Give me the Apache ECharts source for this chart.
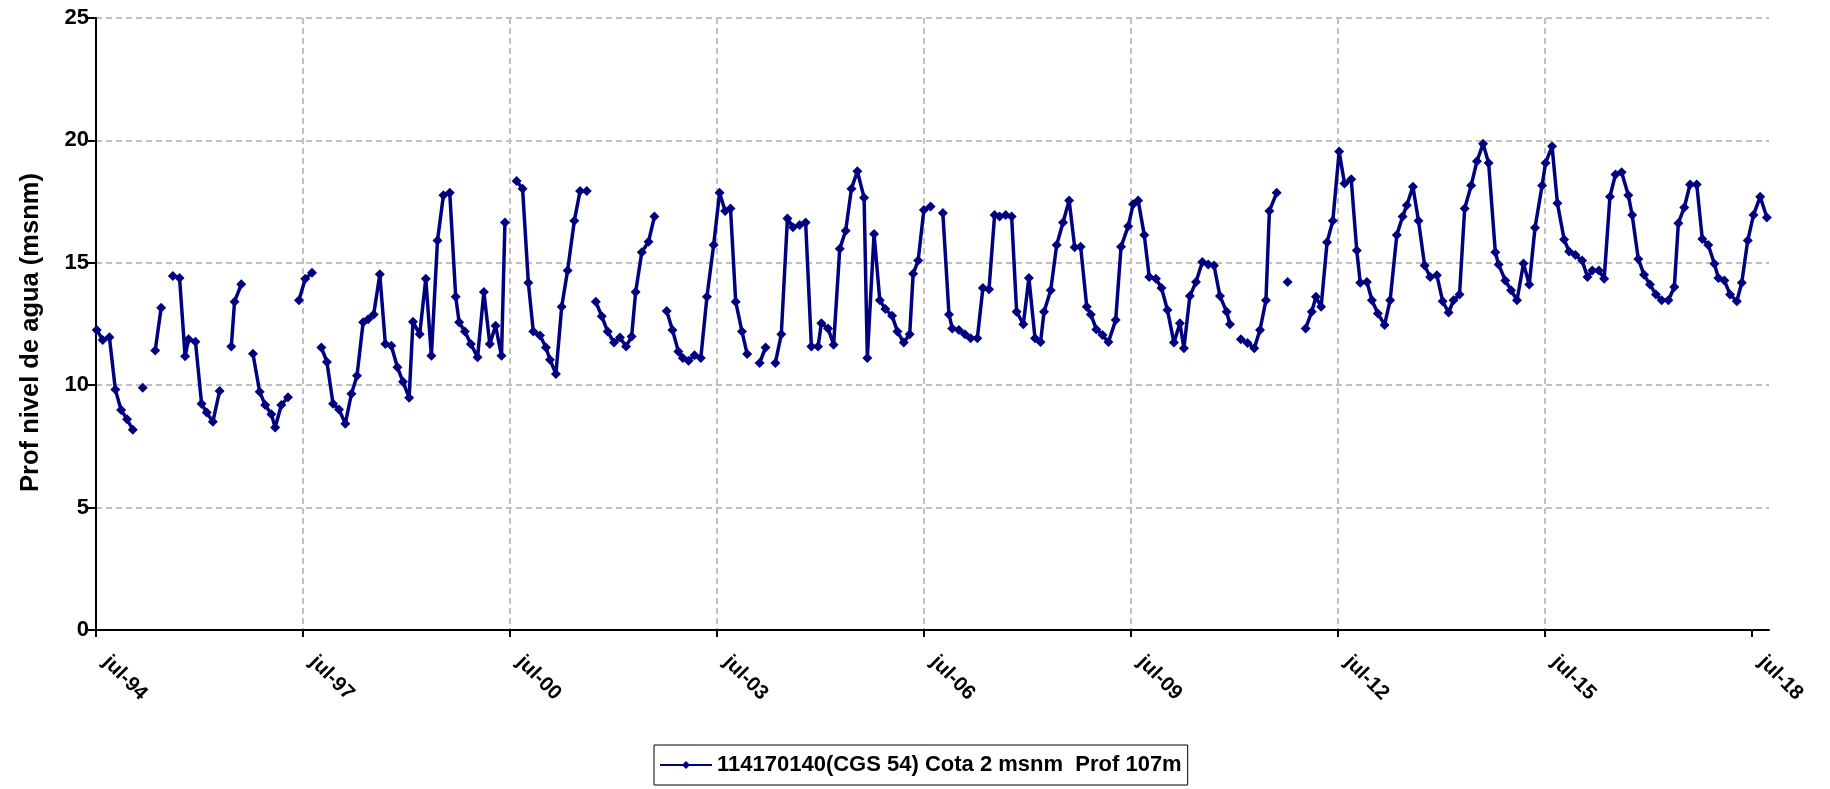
<!DOCTYPE html>
<html>
<head>
<meta charset="utf-8">
<title>114170140 (CGS 54) - nivel de agua</title>
<script src="https://cdn.jsdelivr.net/npm/echarts@6/dist/echarts.min.js"></script>
<style>
  html, body { margin: 0; padding: 0; background: #fff; }
  #chart { width: 1830px; height: 789px; }
</style>
</head>
<body>
<div id="chart"></div>
<script>
// fecha de cada medicion; null en nivel = mes sin dato (corta la linea)
const fechas = [
  '1994-07-05', '1994-08-06', '1994-09-11', '1994-10-12', '1994-11-12', '1994-12-13',
  '1995-01-13', '1995-02-10', '1995-03-05', '1995-04-10', '1995-05-10', '1995-06-11', '1995-07-10', '1995-08-12', '1995-09-17', '1995-10-16', '1995-11-04', '1995-12-10',
  '1996-01-12', '1996-02-09', '1996-03-11', '1996-04-16', '1996-05-10', '1996-06-17', '1996-07-04', '1996-08-09', '1996-09-10', '1996-10-10', '1996-11-15', '1996-12-14',
  '1997-01-16', '1997-02-06', '1997-03-08', '1997-04-13', '1997-05-10', '1997-06-10', '1997-07-13', '1997-08-18', '1997-09-10', '1997-10-07', '1997-11-06', '1997-12-08',
  '1998-01-09', '1998-02-12', '1998-03-14', '1998-04-13', '1998-05-15', '1998-06-11', '1998-07-10', '1998-08-12', '1998-09-11', '1998-10-12', '1998-11-14', '1998-12-13',
  '1999-01-15', '1999-02-05', '1999-03-10', '1999-04-12', '1999-05-11', '1999-06-13', '1999-07-14', '1999-08-17', '1999-09-18', '1999-10-06', '1999-11-06', '1999-12-07',
  '2000-01-12', '2000-02-15', '2000-03-16', '2000-04-16', '2000-05-17', '2000-06-05', '2000-07-05', '2000-08-06', '2000-09-07', '2000-10-07', '2000-11-03', '2000-12-08',
  '2001-01-09', '2001-01-30', '2001-03-01', '2001-04-01', '2001-05-02', '2001-06-07', '2001-07-07', '2001-08-12', '2001-09-05', '2001-09-29', '2001-10-30', '2001-12-01',
  '2002-01-04', '2002-02-05', '2002-03-07', '2002-04-06', '2002-04-27', '2002-05-29', '2002-07-04', '2002-08-05', '2002-09-10', '2002-10-09', '2002-11-09', '2002-12-10',
  '2003-01-03', '2003-02-03', '2003-03-04', '2003-04-07', '2003-05-09', '2003-06-14', '2003-07-15', '2003-08-14', '2003-09-12', '2003-10-09', '2003-11-12', '2003-12-09',
  '2004-01-10', '2004-02-14', '2004-03-15', '2004-04-10', '2004-05-06', '2004-06-07', '2004-07-09', '2004-08-08', '2004-09-13', '2004-10-14', '2004-11-14', '2004-12-19',
  '2005-01-06', '2005-02-11', '2005-03-10', '2005-04-12', '2005-05-13', '2005-06-13', '2005-07-14', '2005-08-19', '2005-09-06', '2005-10-11', '2005-11-11', '2005-12-10',
  '2006-01-15', '2006-02-13', '2006-03-16', '2006-04-17', '2006-05-05', '2006-06-01', '2006-07-01', '2006-08-06', '2006-09-10', '2006-10-10', '2006-11-12', '2006-11-29',
  '2007-01-04', '2007-02-05', '2007-03-05', '2007-04-10', '2007-05-09', '2007-06-11', '2007-07-10', '2007-08-06', '2007-09-08', '2007-10-09', '2007-11-05', '2007-12-10',
  '2008-01-09', '2008-02-11', '2008-03-10', '2008-03-28', '2008-05-03', '2008-06-04', '2008-07-07', '2008-08-09', '2008-09-08', '2008-10-09', '2008-11-11', '2008-12-02',
  '2009-01-01', '2009-02-03', '2009-03-04', '2009-04-12', '2009-05-10', '2009-06-17', '2009-07-13', '2009-08-09', '2009-09-11', '2009-10-07', '2009-11-12', '2009-12-11',
  '2010-01-12', '2010-02-16', '2010-03-17', '2010-04-08', '2010-05-09', '2010-06-11', '2010-07-14', '2010-08-15', '2010-09-15', '2010-10-16', '2010-11-21', '2010-12-08',
  '2011-01-10', '2011-02-05', '2011-03-10', '2011-04-15', '2011-05-15', '2011-06-16', '2011-07-04', '2011-08-12', '2011-09-10', '2011-10-09', '2011-11-10',
  '2012-01-13', '2012-02-15', '2012-03-07', '2012-04-04', '2012-05-05', '2012-06-05', '2012-07-08', '2012-08-06', '2012-09-11', '2012-10-10', '2012-10-28', '2012-12-03', '2012-12-29',
  '2013-01-30', '2013-03-05', '2013-04-04', '2013-05-09', '2013-06-09', '2013-07-01', '2013-08-03', '2013-09-02', '2013-10-04', '2013-11-03', '2013-12-08',
  '2014-01-08', '2014-02-09', '2014-03-05', '2014-04-06', '2014-05-03', '2014-06-07', '2014-07-07', '2014-08-09', '2014-09-08', '2014-10-13', '2014-10-30', '2014-12-05',
  '2015-01-05', '2015-02-06', '2015-03-10', '2015-04-10', '2015-05-10', '2015-06-17', '2015-07-05', '2015-08-09', '2015-09-07', '2015-10-12', '2015-11-08', '2015-12-11',
  '2016-01-16', '2016-02-14', '2016-03-09', '2016-04-13', '2016-05-11', '2016-06-11', '2016-07-10', '2016-08-12', '2016-09-17', '2016-10-07', '2016-11-09', '2016-12-09',
  '2017-01-10', '2017-02-11', '2017-03-11', '2017-04-16', '2017-05-17', '2017-06-08', '2017-07-09', '2017-08-09', '2017-09-14', '2017-10-13', '2017-11-14', '2017-12-16',
  '2018-01-07', '2018-02-08', '2018-03-08', '2018-04-13', '2018-05-09', '2018-06-10', '2018-07-10', '2018-08-15', '2018-09-20'
]

const nivel = [
  12.26, 11.85, 11.96, 9.82, 8.99, 8.61,
  8.18, null, 9.90, null, 11.42, 13.16, null, 14.46, 14.38, 11.18, 11.88, 11.78,
  9.24, 8.88, 8.51, 9.76, null, 11.58, 13.41, 14.12, null, 11.28, 9.73, 9.19,
  8.81, 8.27, 9.19, 9.51, null, 13.47, 14.35, 14.59, null, 11.54, 10.95, 9.24,
  9.01, 8.43, 9.65, 10.39, 12.57, 12.69, 12.89, 14.53, 11.68, 11.61, 10.73, 10.14,
  9.49, 12.59, 12.08, 14.35, 11.20, 15.91, 17.76, 17.86, 13.61, 12.57, 12.19, 11.68,
  11.14, 13.81, 11.68, 12.43, 11.20, 16.65, null, 18.34, 18.03, 14.19, 12.19, 12.03,
  11.54, 11.04, 10.46, 13.20, 14.69, 16.72, 17.93, 17.93, null, 13.41, 12.82, 12.19,
  11.74, 11.95, 11.58, 11.99, 13.81, 15.43, 15.86, 16.89, null, 13.03, 12.26, 11.38,
  11.11, 11.00, 11.22, 11.11, 13.61, 15.73, 17.86, 17.12, 17.22, 13.41, 12.19, 11.27,
  null, 10.91, 11.54, null, 10.91, 12.08, 16.81, 16.45, 16.54, 16.65, 11.58, 11.58,
  12.53, 12.32, 11.65, 15.57, 16.31, 18.03, 18.74, 17.66, 11.11, 16.18, 13.47, 13.11,
  12.84, 12.19, 11.74, 12.08, 14.55, 15.09, 17.16, 17.30, null, 17.03, 12.89, 12.32,
  12.26, 12.08, 11.92, 11.92, 13.97, 13.92, 16.95, 16.89, 16.95, 16.89, 13.00, 12.49,
  14.38, 11.92, 11.76, 13.00, 13.88, 15.73, 16.65, 17.55, 15.64, 15.66, 13.20, 12.89,
  12.28, 12.05, 11.76, 12.66, 15.66, 16.49, 17.39, 17.55, 16.14, 14.42, 14.35, 13.97,
  13.07, 11.74, 12.53, 11.51, 13.64, 14.22, 15.03, 14.93, 14.89, 13.64, 13.00, 12.49,
  null, 11.88, 11.72, 11.51, 12.26, 13.47, 17.12, 17.86, null, 14.22, null,
  12.32, 13.00, 13.61, 13.20, 15.84, 16.72, 19.55, 18.24, 18.41, 15.50, 14.19, 14.22, 13.47,
  12.93, 12.46, 13.47, 16.14, 16.89, 17.35, 18.11, 16.72, 14.89, 14.42, 14.49,
  13.43, 12.97, 13.47, 13.70, 17.22, 18.16, 19.15, 19.86, 19.08, 15.43, 14.93, 14.28,
  13.88, 13.47, 14.97, 14.11, 16.43, 18.16, 19.08, 19.76, 17.43, 15.95, 15.46, 15.32,
  15.09, 14.42, 14.69, 14.69, 14.35, 17.70, 18.61, 18.70, 17.76, 16.95, 15.16, 14.51,
  14.11, 13.70, 13.47, 13.47, 14.01, 16.62, 17.26, 18.20, 18.20, 15.97, 15.73, 14.96,
  14.38, 14.28, 13.70, 13.43, 14.19, 15.91, 16.95, 17.70, 16.85
]

// una etiqueta cada 3 anos, desde jul-94
const etiquetasX = ['jul-94', 'jul-97', 'jul-00', 'jul-03', 'jul-06', 'jul-09', 'jul-12', 'jul-15', 'jul-18']
const nombreSerie = '114170140(CGS 54) Cota 2 msnm  Prof 107m'

const fuente = 'Liberation Sans, Arial, sans-serif'

// meses transcurridos desde el 1 de julio de 1994
function mesesDesdeJul94 (f) {
  const [a, m, d] = f.split('-').map(Number)
  return (a - 1994) * 12 + (m - 7) + (d - 1) / 30
}

const puntos = fechas.map((f, i) => [mesesDesdeJul94(f), nivel[i]])
const marcasX = etiquetasX.map((e, i) => i * 36)

const myChart = echarts.init(document.getElementById('chart'))

const option = {
  animation: false,
  backgroundColor: '#fff',
  grid: {
    left: 96,
    right: 61,
    top: 18,
    bottom: 159
  },
  legend: {
    left: 654,
    bottom: 4,
    data: [nombreSerie],
    borderColor: '#000',
    borderWidth: 1,
    borderRadius: 0,
    padding: [9, 6, 9, 5],
    itemWidth: 52,
    itemHeight: 10,
    textStyle: {
      color: '#000',
      fontFamily: fuente,
      fontWeight: 'bold',
      fontSize: 22
    }
  },
  xAxis: {
    type: 'value',
    min: 0,
    max: 291,
    interval: 36,
    axisLine: {
      lineStyle: { color: '#000', width: 2 }
    },
    axisTick: {
      show: true,
      length: 7,
      customValues: marcasX,
      lineStyle: { color: '#000', width: 2 }
    },
    axisLabel: {
      customValues: marcasX,
      rotate: -45,
      margin: 19,
      padding: [0, 0, 0, 14],
      color: '#000',
      fontFamily: fuente,
      fontWeight: 'bold',
      fontSize: 20.5,
      formatter: function (v) {
        return etiquetasX[Math.round(v / 36)] || ''
      }
    },
    splitLine: {
      show: true,
      showMaxLine: false,
      lineStyle: { color: '#c0c0c0', width: 2, type: [6, 4] }
    }
  },
  yAxis: {
    type: 'value',
    min: 0,
    max: 25,
    interval: 5,
    name: 'Prof nivel de agua (msnm)',
    nameLocation: 'middle',
    nameGap: 52,
    nameRotate: 90,
    nameTextStyle: {
      color: '#000',
      fontFamily: fuente,
      fontWeight: 'bold',
      fontSize: 25.5,
      padding: [0, 17, 0, 0]
    },
    axisLine: {
      show: true,
      lineStyle: { color: '#000', width: 2 }
    },
    axisTick: {
      show: true,
      length: 8,
      lineStyle: { color: '#000', width: 2 }
    },
    axisLabel: {
      margin: 7,
      color: '#000',
      fontFamily: fuente,
      fontWeight: 'bold',
      fontSize: 22
    },
    splitLine: {
      show: true,
      showMinLine: false,
      lineStyle: { color: '#c0c0c0', width: 2, type: [6, 4] }
    }
  },
  series: [
    {
      name: nombreSerie,
      type: 'line',
      data: puntos,
      connectNulls: false,
      symbol: 'diamond',
      symbolSize: 10,
      showSymbol: true,
      itemStyle: { color: '#000080' },
      lineStyle: { color: '#000080', width: 3.5 }
    }
  ]
}

myChart.setOption(option)
</script>
</body>
</html>
